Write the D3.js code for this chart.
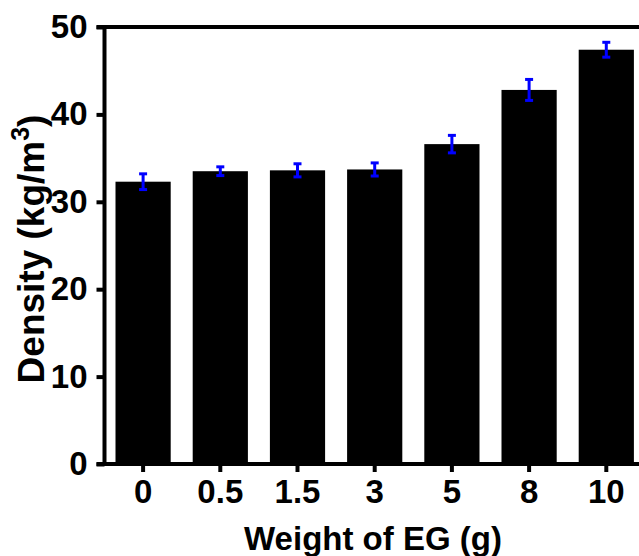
<!DOCTYPE html>
<html lang="en">
<head>
    <meta charset="UTF-8">
    <title>Density vs Weight of EG</title>
    <script src="https://d3js.org/d3.v7.min.js"></script>
    <style>
        body { margin: 0; background: #fff; }
        svg { display: block; }
        text {
            font-family: "Liberation Sans", Arial, sans-serif;
            font-weight: bold;
            fill: #000;
        }
    </style>
</head>
<body>
    <script>
        const categories = ["0", "0.5", "1.5", "3", "5", "8", "10"];
        const densities = [32.3, 33.5, 33.6, 33.7, 36.6, 42.8, 47.4];
        const errors = [0.9, 0.5, 0.75, 0.75, 1.0, 1.2, 0.85];
        const yTicks = [0, 10, 20, 30, 40, 50];

        const width = 639;
        const height = 556;
        const x0 = 104.5, y0 = 464, yTop = 27;
        const step = 77.2;

        let svg = d3.select("body").append("svg")
            .attr("width", width)
            .attr("height", height);

        const x = d3.scaleBand()
            .domain(categories)
            .range([x0, x0 + step * categories.length])
            .paddingInner(0.285)
            .paddingOuter(0.1425);

        const y = d3.scaleLinear()
            .domain([0, 50])
            .range([y0, yTop]);

        const data = categories.map((c, i) => ({ cat: c, v: densities[i], e: errors[i] }));

        // bars
        svg.append("g")
            .selectAll("rect")
            .data(data)
            .enter()
            .append("rect")
            .attr("x", d => x(d.cat))
            .attr("y", d => y(d.v))
            .attr("width", x.bandwidth())
            .attr("height", d => y(0) - y(d.v))
            .attr("fill", "#000");

        // error bars
        let err = svg.append("g")
            .selectAll("g")
            .data(data)
            .enter()
            .append("g")
            .attr("stroke", "#0000ff")
            .attr("stroke-width", 3);
        err.append("line")
            .attr("x1", d => x(d.cat) + x.bandwidth() / 2)
            .attr("x2", d => x(d.cat) + x.bandwidth() / 2)
            .attr("y1", d => y(d.v - d.e))
            .attr("y2", d => y(d.v + d.e));
        err.append("line")
            .attr("x1", d => x(d.cat) + x.bandwidth() / 2 - 4)
            .attr("x2", d => x(d.cat) + x.bandwidth() / 2 + 4)
            .attr("y1", d => y(d.v + d.e))
            .attr("y2", d => y(d.v + d.e));
        err.append("line")
            .attr("x1", d => x(d.cat) + x.bandwidth() / 2 - 4)
            .attr("x2", d => x(d.cat) + x.bandwidth() / 2 + 4)
            .attr("y1", d => y(d.v - d.e))
            .attr("y2", d => y(d.v - d.e));

        // y axis ticks
        let yAxis = svg.append("g")
            .attr("transform", `translate(${x0},0)`)
            .call(d3.axisLeft(y).tickValues(yTicks).tickSize(8).tickSizeOuter(0).tickPadding(9));
        yAxis.select(".domain").remove();
        yAxis.selectAll(".tick line").attr("stroke", "#000").attr("stroke-width", 4);
        yAxis.selectAll(".tick text").style("font-size", "33px");

        // x axis ticks
        let xAxis = svg.append("g")
            .attr("transform", `translate(0,${y0})`)
            .call(d3.axisBottom(x).tickSize(8).tickSizeOuter(0).tickPadding(8));
        xAxis.select(".domain").remove();
        xAxis.selectAll(".tick line").attr("stroke", "#000").attr("stroke-width", 4);
        xAxis.selectAll(".tick text").style("font-size", "33px");

        // frame lines
        svg.append("line")
            .attr("x1", x0).attr("x2", x0)
            .attr("y1", yTop - 2).attr("y2", y0 + 2)
            .attr("stroke", "#000").attr("stroke-width", 4);
        svg.append("line")
            .attr("x1", x0 - 8).attr("x2", width + 10)
            .attr("y1", y0).attr("y2", y0)
            .attr("stroke", "#000").attr("stroke-width", 4);
        svg.append("line")
            .attr("x1", x0 - 8).attr("x2", width + 10)
            .attr("y1", yTop).attr("y2", yTop)
            .attr("stroke", "#000").attr("stroke-width", 4);

        // axis titles
        svg.append("text")
            .attr("x", 373)
            .attr("y", 550)
            .attr("text-anchor", "middle")
            .style("font-size", "33px")
            .text("Weight of EG (g)");

        let yTitle = svg.append("text")
            .attr("transform", "translate(44,249) rotate(-90)")
            .attr("text-anchor", "middle")
            .style("font-size", "37px");
        yTitle.append("tspan").text("Density (kg/m");
        yTitle.append("tspan").attr("dy", -15).style("font-size", "25px").text("3");
        yTitle.append("tspan").attr("dy", 15).text(")");
    </script>
</body>
</html>
